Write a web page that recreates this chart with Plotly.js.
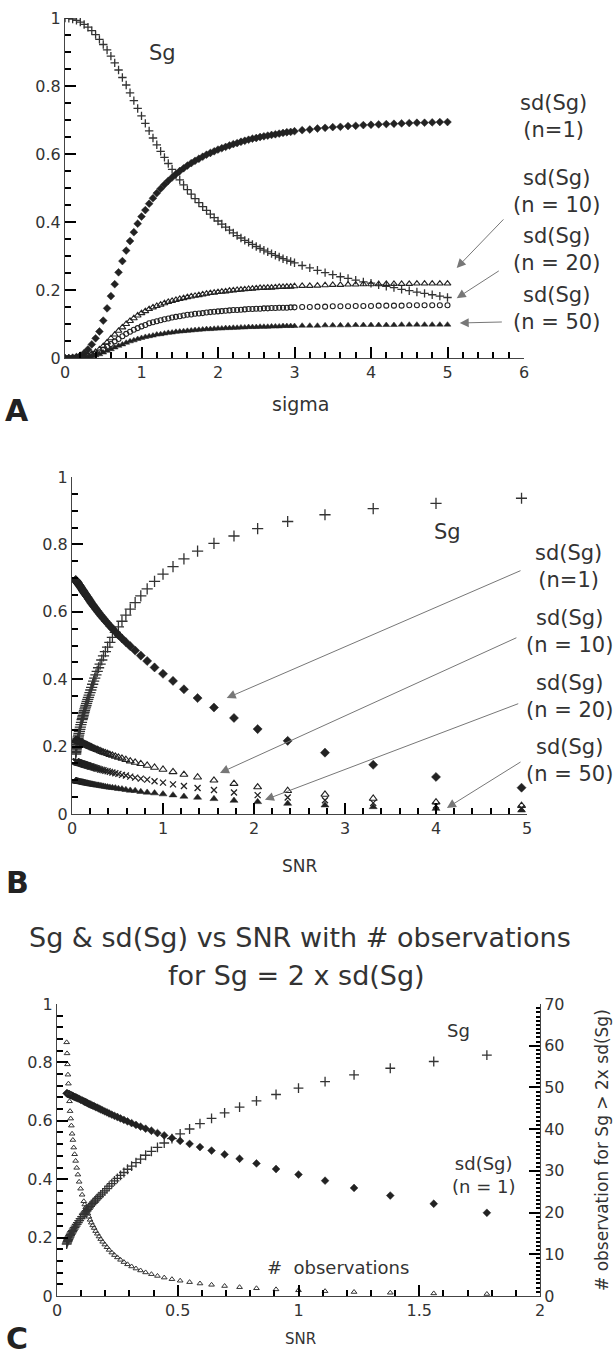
<!DOCTYPE html>
<html>
<head>
<meta charset="utf-8">
<script src="https://cdn.plot.ly/plotly-3.0.1.min.js"></script>
<style>html,body{margin:0;padding:0;background:#fff;}#chart{width:616px;height:1360px;}</style>
</head>
<body>
<div id="chart"></div>
<script>
// ---- data ----
const sigma = [0,0.05,0.1,0.15,0.2,0.25,0.3,0.35,0.4,0.45,0.5,0.55,0.6,0.65,0.7,0.75,0.8,0.85,0.9,0.95,1,1.05,1.1,1.15,1.2,1.25,1.3,1.35,1.4,1.45,1.5,1.55,1.6,1.65,1.7,1.75,1.8,1.85,1.9,1.95,2,2.05,2.1,2.15,2.2,2.25,2.3,2.35,2.4,2.45,2.5,2.55,2.6,2.65,2.7,2.75,2.8,2.85,2.9,2.95,3,3.1,3.2,3.3,3.4,3.5,3.6,3.7,3.8,3.9,4,4.1,4.2,4.3,4.4,4.5,4.6,4.7,4.8,4.9,5];
const snr = [null,400,100,44.4,25,16,11.1,8.16,6.25,4.94,4,3.31,2.78,2.37,2.04,1.78,1.56,1.38,1.23,1.11,1,0.907,0.826,0.756,0.694,0.64,0.592,0.549,0.51,0.476,0.444,0.416,0.391,0.367,0.346,0.327,0.309,0.292,0.277,0.263,0.25,0.238,0.227,0.216,0.207,0.198,0.189,0.181,0.174,0.167,0.16,0.154,0.148,0.142,0.137,0.132,0.128,0.123,0.119,0.115,0.111,0.104,0.0977,0.0918,0.0865,0.0816,0.0772,0.073,0.0693,0.0657,0.0625,0.0595,0.0567,0.0541,0.0517,0.0494,0.0473,0.0453,0.0434,0.0416,0.04];
const sg = [1,0.999,0.997,0.993,0.988,0.981,0.973,0.963,0.951,0.937,0.922,0.906,0.888,0.868,0.847,0.825,0.803,0.78,0.757,0.734,0.712,0.69,0.668,0.647,0.627,0.608,0.59,0.572,0.555,0.539,0.524,0.509,0.495,0.482,0.469,0.457,0.445,0.434,0.423,0.413,0.403,0.394,0.385,0.376,0.368,0.36,0.353,0.346,0.34,0.334,0.328,0.322,0.317,0.312,0.307,0.302,0.297,0.292,0.288,0.284,0.28,0.272,0.265,0.258,0.251,0.245,0.239,0.234,0.229,0.224,0.22,0.215,0.211,0.207,0.202,0.198,0.194,0.19,0.186,0.182,0.178];
const sd1 = [0,0,0.001,0.003,0.007,0.014,0.025,0.04,0.058,0.078,0.11,0.146,0.182,0.217,0.252,0.285,0.316,0.344,0.37,0.395,0.416,0.435,0.454,0.47,0.485,0.498,0.51,0.521,0.531,0.541,0.55,0.558,0.566,0.573,0.58,0.586,0.592,0.598,0.603,0.608,0.613,0.617,0.621,0.625,0.629,0.632,0.636,0.639,0.642,0.645,0.647,0.65,0.652,0.654,0.656,0.658,0.66,0.662,0.664,0.665,0.667,0.67,0.672,0.675,0.677,0.679,0.68,0.682,0.683,0.685,0.686,0.687,0.688,0.689,0.69,0.691,0.692,0.692,0.693,0.694,0.694];
const sd10 = [0,0,0,0.001,0.002,0.004,0.008,0.013,0.018,0.025,0.035,0.046,0.058,0.069,0.08,0.09,0.1,0.109,0.117,0.125,0.132,0.138,0.144,0.149,0.153,0.157,0.161,0.165,0.168,0.171,0.174,0.176,0.179,0.181,0.183,0.185,0.187,0.189,0.191,0.192,0.194,0.195,0.196,0.198,0.199,0.2,0.201,0.202,0.203,0.204,0.205,0.206,0.206,0.207,0.207,0.208,0.209,0.209,0.21,0.21,0.211,0.212,0.212,0.213,0.214,0.215,0.215,0.216,0.216,0.217,0.217,0.217,0.218,0.218,0.218,0.218,0.219,0.219,0.219,0.219,0.219];
const sd20 = [0,0,0,0.001,0.002,0.003,0.006,0.009,0.013,0.017,0.025,0.033,0.041,0.049,0.056,0.064,0.071,0.077,0.083,0.088,0.093,0.097,0.102,0.105,0.108,0.111,0.114,0.116,0.119,0.121,0.123,0.125,0.127,0.128,0.13,0.131,0.132,0.134,0.135,0.136,0.137,0.138,0.139,0.14,0.141,0.141,0.142,0.143,0.144,0.144,0.145,0.145,0.146,0.146,0.147,0.147,0.148,0.148,0.148,0.149,0.149,0.15,0.15,0.151,0.151,0.152,0.152,0.152,0.153,0.153,0.153,0.154,0.154,0.154,0.154,0.155,0.155,0.155,0.155,0.155,0.155];
const sd50 = [0,0,0,0,0.001,0.002,0.004,0.006,0.008,0.011,0.016,0.021,0.026,0.031,0.036,0.04,0.045,0.049,0.052,0.056,0.059,0.062,0.064,0.066,0.069,0.07,0.072,0.074,0.075,0.077,0.078,0.079,0.08,0.081,0.082,0.083,0.084,0.085,0.085,0.086,0.087,0.087,0.088,0.088,0.089,0.089,0.09,0.09,0.091,0.091,0.091,0.092,0.092,0.092,0.093,0.093,0.093,0.094,0.094,0.094,0.094,0.095,0.095,0.095,0.096,0.096,0.096,0.096,0.097,0.097,0.097,0.097,0.097,0.097,0.098,0.098,0.098,0.098,0.098,0.098,0.098];
const obs = [0,0,0,0,0,0,0,0.01,0.01,0.03,0.06,0.1,0.17,0.25,0.35,0.48,0.62,0.78,0.96,1.16,1.37,1.59,1.85,2.11,2.39,2.68,2.99,3.32,3.66,4.03,4.41,4.81,5.23,5.65,6.12,6.58,7.08,7.59,8.13,8.67,9.25,9.81,10.41,11.05,11.69,12.33,12.99,13.64,14.26,14.92,15.56,16.3,16.92,17.58,18.26,18.99,19.75,20.56,21.26,21.93,22.7,24.27,25.72,27.38,29.1,30.72,32.38,33.98,35.58,37.4,38.89,40.84,42.53,44.32,46.67,48.72,50.9,53.06,55.53,58.16,60.81];

// ---- styling ----
const W = 616, H = 1360;
const FONT = 'DejaVu Sans, Verdana, sans-serif';
const INK = '#222';
function mk(sym, size, col, lw){ return {symbol: sym, size: size, color: col, line: {color: col, width: lw}}; }
function tr(x, y, xa, ya, m, clip){ return {type:'scatter', mode:'markers', x:x, y:y, xaxis:xa, yaxis:ya, marker:m, cliponaxis: clip, hoverinfo:'skip'}; }

const traces = [
  tr(sigma, sg,   'x', 'y', mk('cross-thin-open', 6, '#333', 1.3), true),
  tr(sigma, sd1,  'x', 'y', mk('diamond', 6, INK, 0.5), true),
  tr(sigma, sd10, 'x', 'y', mk('triangle-up-open', 6, INK, 1.1), true),
  tr(sigma, sd20, 'x', 'y', mk('circle-open', 5, INK, 1.1), true),
  tr(sigma, sd50, 'x', 'y', mk('triangle-up', 6, INK, 0.5), true),
  tr(snr, sg,   'x2', 'y2', mk('cross-thin-open', 8, '#333', 1.3), true),
  tr(snr, sd1,  'x2', 'y2', mk('diamond', 7, INK, 0.5), true),
  tr(snr, sd10, 'x2', 'y2', mk('triangle-up-open', 7, INK, 1.1), true),
  tr(snr, sd20, 'x2', 'y2', mk('x-thin-open', 6, INK, 1.3), true),
  tr(snr, sd50, 'x2', 'y2', mk('triangle-up', 7, INK, 0.5), true),
  tr(snr, sg,  'x3', 'y3', mk('cross-thin-open', 7, '#333', 1.3), true),
  tr(snr, sd1, 'x3', 'y3', mk('diamond', 6, INK, 0.5), true),
  tr(snr, obs, 'x3', 'y4', mk('triangle-up-open', 5, '#333', 1), true)
];

const px = v => v / W, py = v => 1 - v / H;
const tickFont = {family:FONT, size:16, color:'#333'};
function base(extra){ return Object.assign({showline:true, ticks:'inside', ticklen:11, tickwidth:2, tickcolor:'#000', showgrid:false, zeroline:false, fixedrange:true, tickfont:tickFont}, extra); }
function mn(dt, len){ return {dtick:dt, ticks:'inside', ticklen:len||6}; }

const layout = {
  width: W, height: H,
  margin: {l:0, r:0, t:0, b:0},
  showlegend:false,
  xaxis: base({domain:[px(65), px(524)], range:[0,6], anchor:'y', dtick:1, minor:mn(0.2)}),
  yaxis: base({domain:[py(358), py(18)], range:[0,1], anchor:'x', dtick:0.2, minor:mn(0.05)}),
  xaxis2: base({domain:[px(72), px(527)], range:[0,5], anchor:'y2', dtick:1, minor:mn(0.2)}),
  yaxis2: base({domain:[py(814), py(477)], range:[0,1], anchor:'x2', dtick:0.2, minor:mn(0.05)}),
  xaxis3: base({domain:[px(57), px(540)], range:[0,2], anchor:'y3', dtick:0.5, minor:mn(0.1)}),
  yaxis3: base({domain:[py(1296), py(1004)], range:[0,1], anchor:'x3', dtick:0.2, minor:mn(0.04)}),
  yaxis4: base({overlaying:'y3', side:'right', anchor:'x3', range:[0,70], dtick:10, minor:mn(1, 4)}),
  annotations: []
};

function txt(s, x, y, size, opts){
  return Object.assign({text:s, xref:'paper', yref:'paper', x:px(x), y:py(y), xanchor:'center', yanchor:'middle',
    showarrow:false, font:{family:FONT, size:size, color:'#333'}}, opts||{});
}
function arrow(xr, yr, hx, hy, tx, ty){
  return {text:'', xref:xr, yref:yr, axref:xr, ayref:yr, x:hx, y:hy, ax:tx, ay:ty,
    showarrow:true, arrowhead:2, arrowsize:1.8, arrowwidth:1, arrowcolor:'#777', standoff:0};
}
const bold = s => ({family:FONT, size:s, color:'#222'});
const A = layout.annotations;
// Panel A
A.push(txt('Sg', 162, 53, 21));
A.push(txt('sd(Sg)<br>(n=1)', 553, 116, 21));
A.push(txt('sd(Sg)<br>(n = 10)', 556, 192, 21));
A.push(txt('sd(Sg)<br>(n = 20)', 556, 249, 21));
A.push(txt('sd(Sg)<br>(n = 50)', 556, 309, 21));
A.push(txt('sigma', 300, 404, 19));
A.push(txt('<b>A</b>', 17, 410, 30, {font:bold(30)}));
A.push(arrow('x','y', 5.12, 0.265, 5.75, 0.412));
A.push(arrow('x','y', 5.12, 0.176, 5.69, 0.259));
A.push(arrow('x','y', 5.16, 0.103, 5.73, 0.106));
// Panel B
A.push(txt('Sg', 447, 532, 21));
A.push(txt('sd(Sg)<br>(n=1)', 568, 566, 21));
A.push(txt('sd(Sg)<br>(n = 10)', 569, 631, 21));
A.push(txt('sd(Sg)<br>(n = 20)', 569, 697, 21));
A.push(txt('sd(Sg)<br>(n = 50)', 569, 760, 21));
A.push(txt('SNR', 300, 866, 17));
A.push(txt('<b>B</b>', 17, 882, 30, {font:bold(30)}));
A.push(arrow('x2','y2', 1.70, 0.344, 4.945, 0.724));
A.push(arrow('x2','y2', 1.626, 0.122, 4.90, 0.525));
A.push(arrow('x2','y2', 2.12, 0.042, 4.92, 0.329));
A.push(arrow('x2','y2', 4.12, 0.018, 4.945, 0.157));
// Panel C
A.push(txt('Sg & sd(Sg) vs SNR with # observations', 300, 937, 27));
A.push(txt('for Sg = 2 x sd(Sg)', 296, 975, 27));
A.push(txt('Sg', 458, 1030, 18));
A.push(txt('sd(Sg)<br>(n = 1)', 483, 1175, 18));
A.push(txt('#  observations', 338, 1267, 18));
A.push(txt('SNR', 300, 1339, 15));
A.push(txt('<b>C</b>', 17, 1338, 30, {font:bold(30)}));
A.push(txt('# observation for Sg > 2x sd(Sg)', 602, 1150, 17, {textangle:-90}));

Plotly.newPlot('chart', traces, layout, {staticPlot:true});
</script>
</body>
</html>
